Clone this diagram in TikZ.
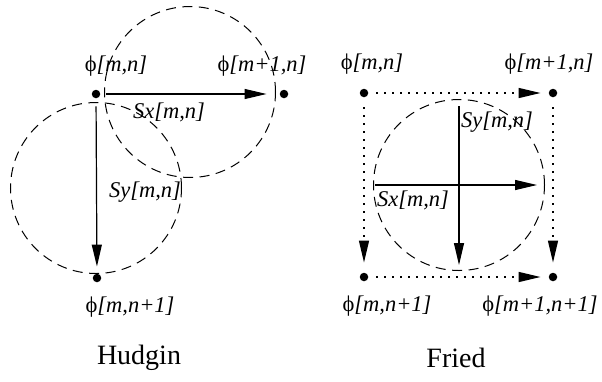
\documentclass[tikz,border=0pt]{standalone}
\usepackage{fontspec}
\setmainfont{Liberation Serif}[ItalicFont={Liberation Serif Italic}]
\usetikzlibrary{arrows.meta, positioning}

\begin{document}
\begin{tikzpicture}[x=1pt, y=-1pt,
        pt/.style={circle, fill=black, inner sep=0pt, minimum size=8.5pt},
        ring/.style={draw, circle, dash pattern=on 10pt off 6.5pt, line width=1pt, minimum size=171pt, inner sep=0pt},
        vec/.style={line width=1.2pt, -{Triangle[length=22pt, width=10pt]}},
        dotvec/.style={line width=1.4pt, dash pattern=on 1.4pt off 6.6pt, -{Triangle[length=22pt, width=10pt]}},
        lab/.style={font=\fontsize{22.5}{25}\selectfont, inner sep=0pt},
        schemename/.style={font=\fontsize{28}{30}\selectfont, inner sep=0pt},
      ]
      \useasboundingbox (0,0) rectangle (602,381);
      % Hudgin
      \node[ring] (hcx) at (190,92) {};
      \node[ring] (hcy) at (96,188) {};
      \node[pt] (h00) at (96,94) {};
      \node[pt] (h10) at (284,94) {};
      \node[pt] (h01) at (97,278) {};
      \draw[vec, shorten <=6pt, shorten >=13pt] (h00) -- (h10);
      \draw[vec, shorten <=8pt, shorten >=7pt] (h00) -- (h01);
      \node[lab] (lh00) at (116,66) {ϕ\textit{[m,n]}};
      \node[lab] (lh10) at (262,66) {ϕ\textit{[m+1,n]}};
      \node[lab] (lh01) at (130,307) {ϕ\textit{[m,n+1]}};
      \node[lab] (lhsx) at (169,112) {\textit{Sx[m,n]}};
      \node[lab] (lhsy) at (145,192) {\textit{Sy[m,n]}};
      \node[schemename] (hud) at (139,358) {Hudgin};
      % Fried
      \node[ring] (fc) at (459,185) {};
      \node[pt] (f00) at (364,93) {};
      \node[pt] (f10) at (553,93) {};
      \node[pt] (f01) at (364,277) {};
      \node[pt] (f11) at (553,277) {};
      \draw[dotvec, shorten <=8pt, shorten >=8pt] (f00) -- (f10);
      \draw[dotvec, shorten <=8pt, shorten >=8pt] (f01) -- (f11);
      \draw[dotvec, shorten <=10pt, shorten >=10pt] (f00) -- (f01);
      \draw[dotvec, shorten <=10pt, shorten >=10pt] (f10) -- (f11);
      \draw[vec, shorten <=2pt, shorten >=8pt] (fc.west) -- (fc.east);
      \draw[vec, shorten <=7pt, shorten >=6pt] (fc.north) -- (fc.south);
      \node[lab] (lf00) at (372,64) {ϕ\textit{[m,n]}};
      \node[lab] (lf10) at (549,64) {ϕ\textit{[m+1,n]}};
      \node[lab] (lf01) at (387,306) {ϕ\textit{[m,n+1]}};
      \node[lab] (lf11) at (540,306) {ϕ\textit{[m+1,n+1]}};
      \node[lab] (lfsy) at (497,122) {\textit{Sy[m,n]}};
      \node[lab] (lfsx) at (413,200) {\textit{Sx[m,n]}};
      \node[schemename] (fri) at (456,358) {Fried};
      \end{tikzpicture}
\end{document}
